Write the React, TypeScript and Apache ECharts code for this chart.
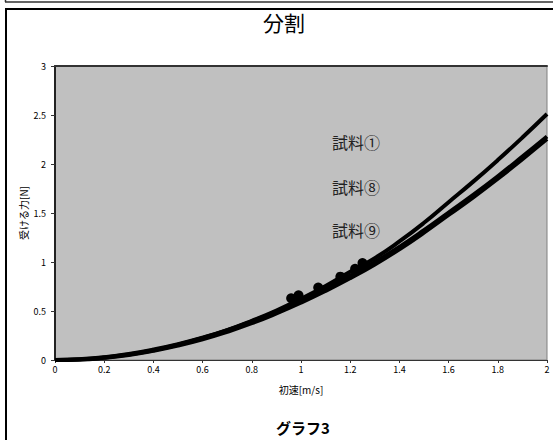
import React, { useEffect, useRef } from "react";
import * as echarts from "echarts";

const speeds = [0, 0.1, 0.2, 0.3, 0.4, 0.5, 0.6, 0.7, 0.8, 0.9, 1.0, 1.1, 1.2, 1.3, 1.4, 1.5, 1.6, 1.7, 1.8, 1.9, 2.0];
const sample1 = [0, 0.006, 0.025, 0.056, 0.1, 0.155, 0.225, 0.305, 0.4, 0.505, 0.625, 0.755, 0.9, 1.04, 1.21, 1.4, 1.61, 1.82, 2.04, 2.27, 2.51];
const sample8 = [0, 0.008, 0.028, 0.062, 0.107, 0.162, 0.228, 0.305, 0.395, 0.495, 0.607, 0.728, 0.86, 1.0, 1.155, 1.325, 1.505, 1.685, 1.875, 2.075, 2.28];
const sample9 = [0, 0.004, 0.022, 0.052, 0.095, 0.148, 0.212, 0.288, 0.375, 0.475, 0.585, 0.705, 0.835, 0.975, 1.13, 1.3, 1.48, 1.66, 1.85, 2.05, 2.255];
const measuredV = [0.96, 0.99, 1.07, 1.16, 1.22, 1.25];
const measuredF = [0.63, 0.66, 0.74, 0.85, 0.93, 0.99];
const xTicks = [0, 0.2, 0.4, 0.6, 0.8, 1, 1.2, 1.4, 1.6, 1.8, 2];
const yTicks = [0, 0.5, 1, 1.5, 2, 2.5, 3];
const labels = ["試料①", "試料⑧", "試料⑨"];

const FONT = '"Noto Sans CJK JP", "Noto Sans", sans-serif';

export default function App() {
  const ref = useRef<HTMLDivElement>(null);
  useEffect(() => {
    if (!ref.current) return;
    const chart = echarts.init(ref.current, undefined, { renderer: "svg" });
    const toPairs = (ys: number[]) => speeds.map((v, i) => [v, ys[i]]);
    const lineSeries = (name: string, ys: number[], w: number) => ({
      name,
      type: "line",
      data: toPairs(ys),
      smooth: true,
      symbol: "none",
      lineStyle: { color: "#000", width: w },
      z: 3,
    });
    chart.setOption({
      animation: false,
      backgroundColor: "#fff",
      textStyle: { fontFamily: FONT },
      grid: {
        left: 55,
        top: 66,
        width: 492,
        height: 294,
        show: true,
        backgroundColor: "#c0c0c0",
        borderColor: "#808080",
        borderWidth: 1,
      },
      xAxis: [
        {
          type: "value",
          min: 0,
          max: 2,
          interval: 0.2,
          name: "初速[m/s]",
          nameLocation: "middle",
          nameGap: 24,
          nameMoveOverlap: false,
          nameTextStyle: { fontSize: 10, color: "#000", fontFamily: FONT },
          axisLine: { show: true, lineStyle: { color: "#333", width: 1 } },
          axisTick: { show: true, length: 3, lineStyle: { color: "#333" } },
          splitLine: { show: false },
          axisLabel: {
            fontSize: 9,
            color: "#000",
            margin: 5,
            fontFamily: FONT,
            formatter: (v: number) => {
              const t = xTicks.find((x) => Math.abs(x - v) < 1e-6);
              return t === undefined ? "" : String(t);
            },
          },
        },
        {
          type: "value",
          position: "top",
          min: 0,
          max: 2,
          axisLine: { show: true, lineStyle: { color: "#333", width: 2 } },
          axisTick: { show: false },
          axisLabel: { show: false },
          splitLine: { show: false },
        },
      ],
      yAxis: {
        type: "value",
        min: 0,
        max: 3,
        interval: 0.5,
        name: "受ける力[N]",
        nameLocation: "middle",
        nameGap: 27,
        nameMoveOverlap: false,
        nameTextStyle: { fontSize: 10, color: "#000", fontFamily: FONT },
        axisLine: { show: true, lineStyle: { color: "#222", width: 2 } },
        axisTick: { show: true, length: 4, lineStyle: { color: "#333" } },
        splitLine: { show: false },
        axisLabel: {
          fontSize: 9,
          color: "#000",
          margin: 9,
          fontFamily: FONT,
          formatter: (v: number) => {
            const t = yTicks.find((y) => Math.abs(y - v) < 1e-6);
            return t === undefined ? "" : String(t);
          },
        },
      },
      series: [
        lineSeries(labels[0], sample1, 4),
        lineSeries(labels[1], sample8, 4),
        lineSeries(labels[2], sample9, 4),
        {
          name: "測定値",
          type: "scatter",
          data: measuredV.map((v, i) => [v, measuredF[i]]),
          symbol: "circle",
          symbolSize: 10,
          itemStyle: { color: "#000", opacity: 1 },
          z: 4,
        },
      ],
      graphic: [
        { type: "line", shape: { x1: 5, y1: 2, x2: 553, y2: 2 }, style: { stroke: "#333", lineWidth: 1.5 } },
        { type: "line", shape: { x1: 5.5, y1: 0, x2: 5.5, y2: 2 }, style: { stroke: "#333", lineWidth: 1.5 } },
        { type: "line", shape: { x1: 5, y1: 9, x2: 553, y2: 9 }, style: { stroke: "#000", lineWidth: 2 } },
        { type: "line", shape: { x1: 6, y1: 8, x2: 6, y2: 440 }, style: { stroke: "#000", lineWidth: 2 } },
        {
          type: "text",
          x: 284,
          y: 22,
          style: { text: "分割", fontSize: 21, fontFamily: FONT, fill: "#000", align: "center", verticalAlign: "middle" },
        },
        {
          type: "text",
          x: 332,
          y: 142,
          style: { text: labels[0], fontSize: 16, fontFamily: FONT, fill: "#222", align: "left", verticalAlign: "middle" },
        },
        {
          type: "text",
          x: 332,
          y: 187,
          style: { text: labels[1], fontSize: 16, fontFamily: FONT, fill: "#222", align: "left", verticalAlign: "middle" },
        },
        {
          type: "text",
          x: 332,
          y: 230,
          style: { text: labels[2], fontSize: 16, fontFamily: FONT, fill: "#222", align: "left", verticalAlign: "middle" },
        },
        {
          type: "text",
          x: 303,
          y: 427,
          style: { text: "グラフ3", fontSize: 15, fontWeight: "bold", fontFamily: FONT, fill: "#000", align: "center", verticalAlign: "middle" },
        },
      ],
    });
    return () => chart.dispose();
  }, []);
  return (
    <div
      ref={ref}
      style={{ position: "absolute", left: 0, top: 0, width: 553, height: 440 }}
    />
  );
}
